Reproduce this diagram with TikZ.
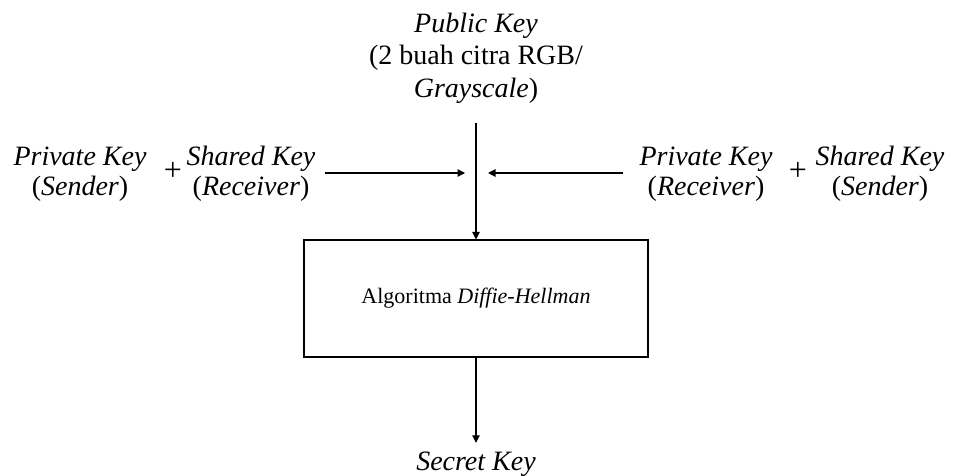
\documentclass[tikz,border=0pt]{standalone}
\usepackage{fontspec}
\setmainfont{Liberation Serif}
\usetikzlibrary{arrows.meta}

\begin{document}
\begin{tikzpicture}[x=1pt,y=-1pt,
  lbl/.style={align=center,inner sep=0pt,font=\fontsize{28}{30}\selectfont},
  publbl/.style={lbl,font=\fontsize{28}{32.5}\selectfont},
  pluslbl/.style={inner sep=0pt,font=\fontsize{32}{32}\selectfont},
  algobox/.style={draw,line width=1.1pt,minimum width=344pt,minimum height=117pt,inner sep=0pt,font=\fontsize{22}{26}\selectfont},
  arr/.style={line width=1.1pt,-{Triangle[length=7.5pt,width=7.5pt]}}]

\useasboundingbox (0,0) rectangle (956,476);

\node[publbl] (pub) at (476,58) {\textit{Public Key}\\(2 buah citra RGB/\\\textit{Grayscale})};
\node[algobox] (algo) at (476,298.5) {Algoritma \textit{Diffie-Hellman}};
\node[lbl,inner sep=8.5pt,anchor=base] (sec) at (476,470) {\textit{Secret Key}};

\node[lbl] (privS) at (80,174) {\textit{Private Key}\\(\textit{Sender})};
\node[pluslbl] (plusL) at (173,171) {+};
\node[lbl] (sharR) at (251,174) {\textit{Shared Key}\\(\textit{Receiver})};

\node[lbl] (privR) at (706,174) {\textit{Private Key}\\(\textit{Receiver})};
\node[pluslbl] (plusR) at (798,171) {+};
\node[lbl] (sharS) at (880,174) {\textit{Shared Key}\\(\textit{Sender})};

\coordinate (inL) at (465,173);
\coordinate (inR) at (488,173);

\draw[arr,shorten <=20pt] (pub) -- (algo);
\draw[arr] (algo) -- (sec);
\draw[arr,shorten <=9pt] (sharR.east |- inL) -- (inL);
\draw[arr,shorten <=16pt] (privR.west |- inR) -- (inR);

\end{tikzpicture}
\end{document}
